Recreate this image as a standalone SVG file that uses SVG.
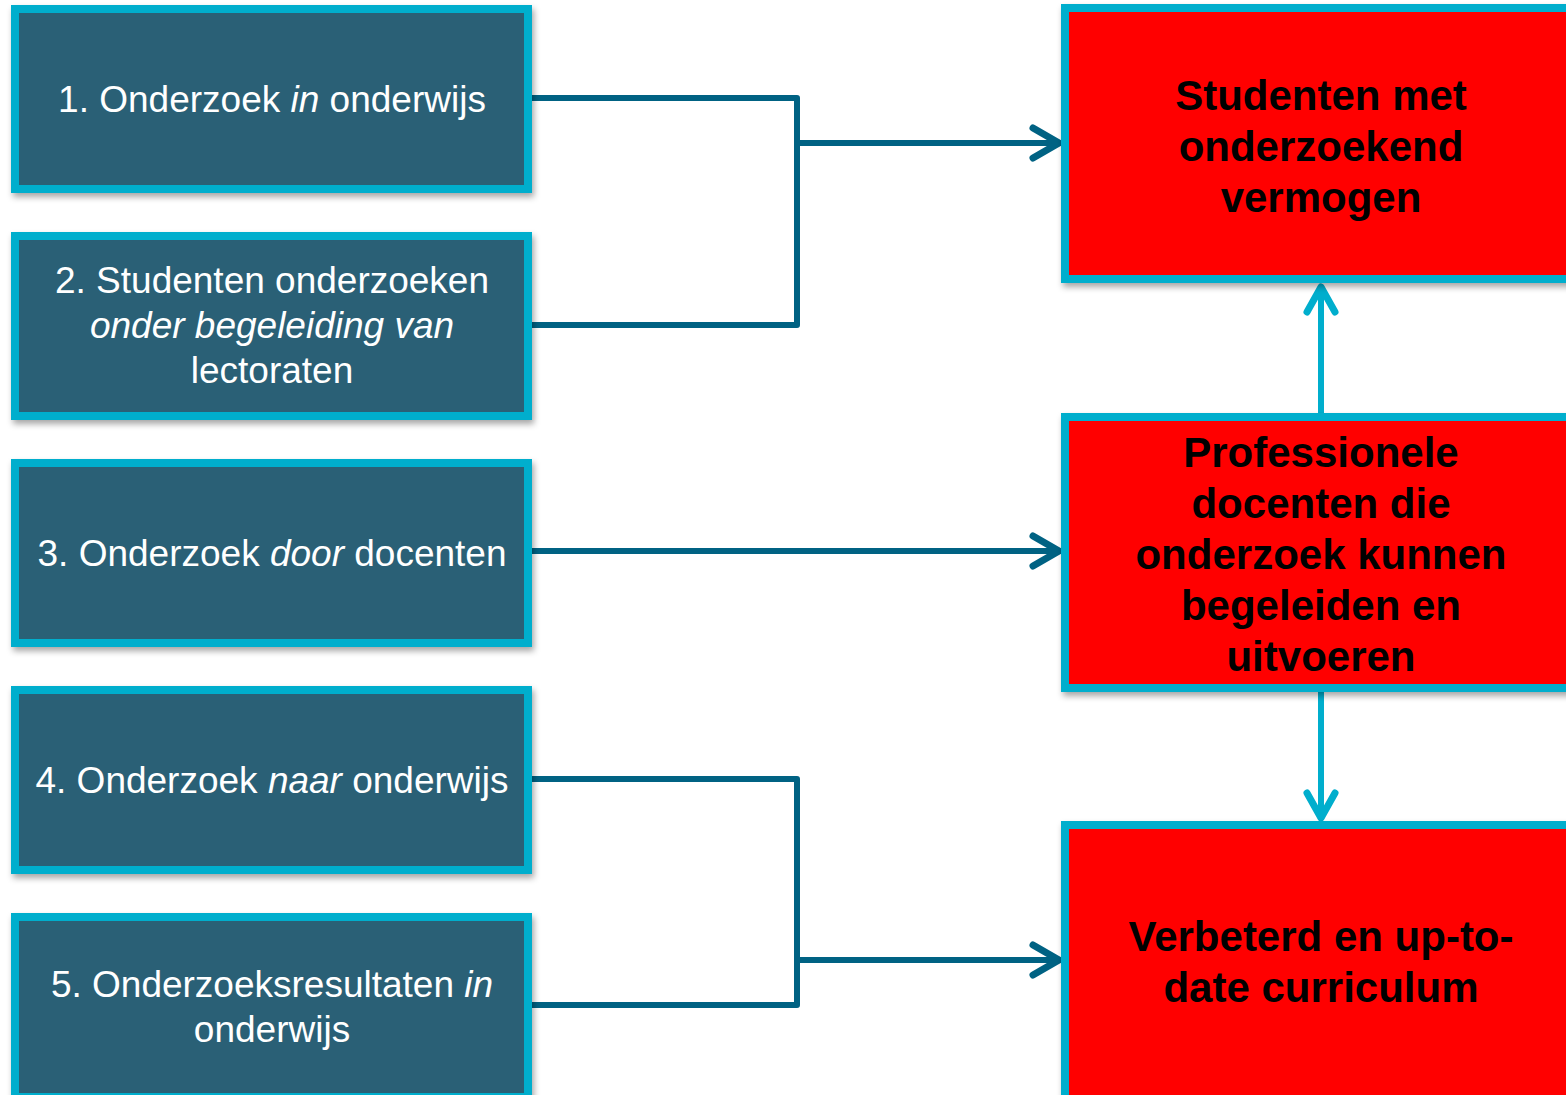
<svg xmlns="http://www.w3.org/2000/svg" width="1566" height="1095" viewBox="0 0 1566 1095">
  <defs>
    <filter id="shadow" x="-5%" y="-5%" width="115%" height="120%">
      <feDropShadow dx="2" dy="4" stdDeviation="3" flood-color="#000" flood-opacity="0.35"/>
    </filter>
    <style>
      .lbox { fill: #296076; stroke: #00AECD; stroke-width: 8; filter: url(#shadow); }
      .rbox { fill: #FF0000; stroke: #00AECD; stroke-width: 8; filter: url(#shadow); }
      .ltxt { font-family: "Liberation Sans", Arial, sans-serif; font-size: 37px; fill: #FFFFFF; text-anchor: middle; }
      .rtxt { font-family: "Liberation Sans", Arial, sans-serif; font-size: 42px; font-weight: bold; fill: #000000; text-anchor: middle; }
      .it { font-style: italic; }
      .conn { fill: none; stroke: #006283; stroke-width: 6; stroke-linejoin: round; }
      .head { fill: none; stroke: #006283; stroke-width: 7; stroke-linecap: round; stroke-linejoin: round; }
      .vconn { fill: none; stroke: #00AECD; stroke-width: 6; }
      .vhead { fill: none; stroke: #00AECD; stroke-width: 7; stroke-linecap: round; stroke-linejoin: round; }
    </style>
  </defs>
  <rect width="1566" height="1095" fill="#FFFFFF"/>

  <g id="connectors">
    <path class="conn" d="M531,98 H797 V325 H531"/>
    <path class="conn" d="M797,143 H1058"/>
    <path class="head" d="M1033,128 L1059,143 L1033,158"/>
    <path class="conn" d="M531,551 H1058"/>
    <path class="head" d="M1033,536 L1059,551 L1033,566"/>
    <path class="conn" d="M531,779 H797 V1005 H531"/>
    <path class="conn" d="M797,960 H1058"/>
    <path class="head" d="M1033,945 L1059,960 L1033,975"/>
    <path class="vconn" d="M1321,413 V288"/>
    <path class="vhead" d="M1307,312 L1321,287 L1335,312"/>
    <path class="vconn" d="M1321,692 V818"/>
    <path class="vhead" d="M1307,793 L1321,818 L1335,793"/>
  </g>

  <g id="node1">
    <rect class="lbox" x="15" y="9" width="513" height="180"/>
    <text class="ltxt" x="272" y="112">1. Onderzoek <tspan class="it">in</tspan> onderwijs</text>
  </g>
  <g id="node2">
    <rect class="lbox" x="15" y="236" width="513" height="180"/>
    <text class="ltxt" x="272" y="293">2. Studenten onderzoeken</text>
    <text class="ltxt it" x="272" y="338">onder begeleiding van</text>
    <text class="ltxt" x="272" y="383">lectoraten</text>
  </g>
  <g id="node3">
    <rect class="lbox" x="15" y="463" width="513" height="180"/>
    <text class="ltxt" x="272" y="566">3. Onderzoek <tspan class="it">door</tspan> docenten</text>
  </g>
  <g id="node4">
    <rect class="lbox" x="15" y="690" width="513" height="180"/>
    <text class="ltxt" x="272" y="793">4. Onderzoek <tspan class="it">naar</tspan> onderwijs</text>
  </g>
  <g id="node5">
    <rect class="lbox" x="15" y="917" width="513" height="180"/>
    <text class="ltxt" x="272" y="997">5. Onderzoeksresultaten <tspan class="it">in</tspan></text>
    <text class="ltxt" x="272" y="1042">onderwijs</text>
  </g>

  <g id="node6">
    <rect class="rbox" x="1065" y="8" width="512" height="271"/>
    <text class="rtxt" x="1321" y="110">Studenten met</text>
    <text class="rtxt" x="1321" y="161">onderzoekend</text>
    <text class="rtxt" x="1321" y="212">vermogen</text>
  </g>
  <g id="node7">
    <rect class="rbox" x="1065" y="417" width="512" height="271"/>
    <text class="rtxt" x="1321" y="467">Professionele</text>
    <text class="rtxt" x="1321" y="518">docenten die</text>
    <text class="rtxt" x="1321" y="569">onderzoek kunnen</text>
    <text class="rtxt" x="1321" y="620">begeleiden en</text>
    <text class="rtxt" x="1321" y="671">uitvoeren</text>
  </g>
  <g id="node8">
    <rect class="rbox" x="1065" y="825" width="512" height="280"/>
    <text class="rtxt" x="1321" y="951">Verbeterd en up-to-</text>
    <text class="rtxt" x="1321" y="1002">date curriculum</text>
  </g>
</svg>
